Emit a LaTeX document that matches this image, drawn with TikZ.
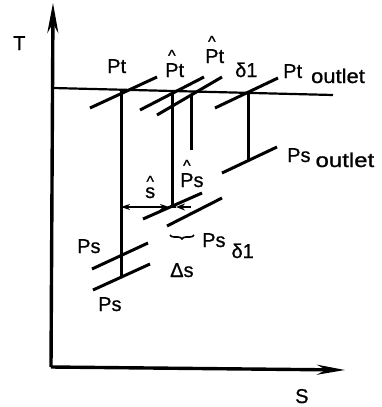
\documentclass[tikz,border=0pt]{standalone}
\usepackage{fontspec}
\setsansfont{Liberation Sans}[FakeBold=0.8]
\usetikzlibrary{
  arrows.meta,
  decorations.pathreplacing
}
% small caret set well above a letter
\newcommand{\hatted}[2][16pt]{\ooalign{#2\cr\hidewidth\raisebox{#1}{\fontsize{16}{16}\selectfont\textasciicircum}\hidewidth\cr}}
\newcommand{\outletword}[1]{\raisebox{-5pt}{\scalebox{#1}[1]{outlet}}}

\begin{document}
\begin{tikzpicture}[
  x=1pt, y=-1pt,
  every node/.style={font=\sffamily\fontsize{20}{22}\selectfont, inner sep=0pt},
  lbl/.style={anchor=base west},
  axis/.style={line width=3.4pt},
  isobar/.style={line width=3pt},
  drop/.style={line width=3pt},
  dim/.style={line width=1.6pt, {Stealth[length=9pt,width=6pt]}-{Stealth[length=9pt,width=6pt]}},
  >=Stealth
]
\useasboundingbox (0,0) rectangle (382,407);

% Axes
\coordinate (O) at (51,367);
\coordinate (Ttip) at (53,3);
\coordinate (Stip) at (345,370);
\draw[axis, -{Stealth[length=30pt,width=11pt]}] (O) -- (Ttip);
\draw[axis, -{Stealth[length=28pt,width=10pt]}] (O) -- (Stip);
\node[lbl] (Tlab) at (13,50) {T};
\node[lbl] (Slab) at (295,403) {S};

% Total temperature level
\coordinate (h0) at (53,88);
\coordinate (h1) at (333,95);
\draw[line width=2.2pt] (h0) -- (h1);

% Total pressure lines
\coordinate (pt1a) at (90,108);  \coordinate (pt1b) at (157,77);
\coordinate (pt2a) at (140,110); \coordinate (pt2b) at (204,77);
\coordinate (pt3a) at (157,115); \coordinate (pt3b) at (222,77);
\coordinate (pt4a) at (215,108); \coordinate (pt4b) at (278,78);
\foreach \n in {1,...,4}
  \draw[isobar] (pt\n a) -- (pt\n b);

% Static pressure lines
\coordinate (ps1a) at (92,269);  \coordinate (ps1b) at (148,243);
\coordinate (ps2a) at (93,290);  \coordinate (ps2b) at (150,264);
\coordinate (ps3a) at (143,219); \coordinate (ps3b) at (202,193);
\coordinate (ps4a) at (167,226); \coordinate (ps4b) at (222,198);
\coordinate (ps5a) at (222,173); \coordinate (ps5b) at (277,147);
\foreach \n in {1,...,5}
  \draw[isobar] (ps\n a) -- (ps\n b);

% Drops from total to static state
\coordinate (d1t) at (121,91);  \coordinate (d1b) at (121,278);
\coordinate (d2t) at (172,92);  \coordinate (d2b) at (172,207);
\coordinate (d3t) at (191,94);  \coordinate (d3b) at (191,150);
\coordinate (d4t) at (248,93);  \coordinate (d4b) at (248,161);
\foreach \n in {1,...,4}
  \draw[drop] (d\n t) -- (d\n b);

% Entropy rise
\coordinate (s0) at (121,207);
\coordinate (s1) at (169,207);
\coordinate (s2) at (191,207);
\coordinate (s3) at (176,207);
\draw[dim] (s0) -- (s1);
\draw[line width=1.6pt, -{Stealth[length=9pt,width=7pt]}] (s2) -- (s3);
\draw[line width=1.6pt] (s1) -- (s3);
\coordinate (br0) at (170,235);
\coordinate (br1) at (194,235);
\draw[line width=1.6pt, decorate, decoration={brace, mirror, amplitude=4pt}] (br0) -- (br1);

% Labels
\node[lbl] (lPt) at (107,73) {Pt};
\node[lbl] (lPth) at (165,77) {\hatted{P}t};
\node[lbl] (lPtd) at (205,63) {\hatted{P}t};
\node[lbl] (ld1) at (235,77) {δ1};
\node[lbl] (lPto) at (283,78) {Pt\hspace{9pt}\outletword{1.1}};
\node[lbl] (lPso) at (287,162) {Ps\hspace{5pt}\outletword{1.2}};
\node[lbl] (lPsh) at (180,187) {\hatted{P}s};
\node[lbl] (lsh) at (145,198) {\hatted[11pt]{s}};
\node[lbl] (lPs1) at (77,253) {Ps};
\node[lbl] (lPs2) at (98,311) {Ps};
\node[lbl] (lPsd) at (202,247) {Ps\hspace{6pt}\raisebox{-11pt}{δ1}};
\node[lbl] (lds) at (170,277) {Δs};

\end{tikzpicture}
\end{document}
